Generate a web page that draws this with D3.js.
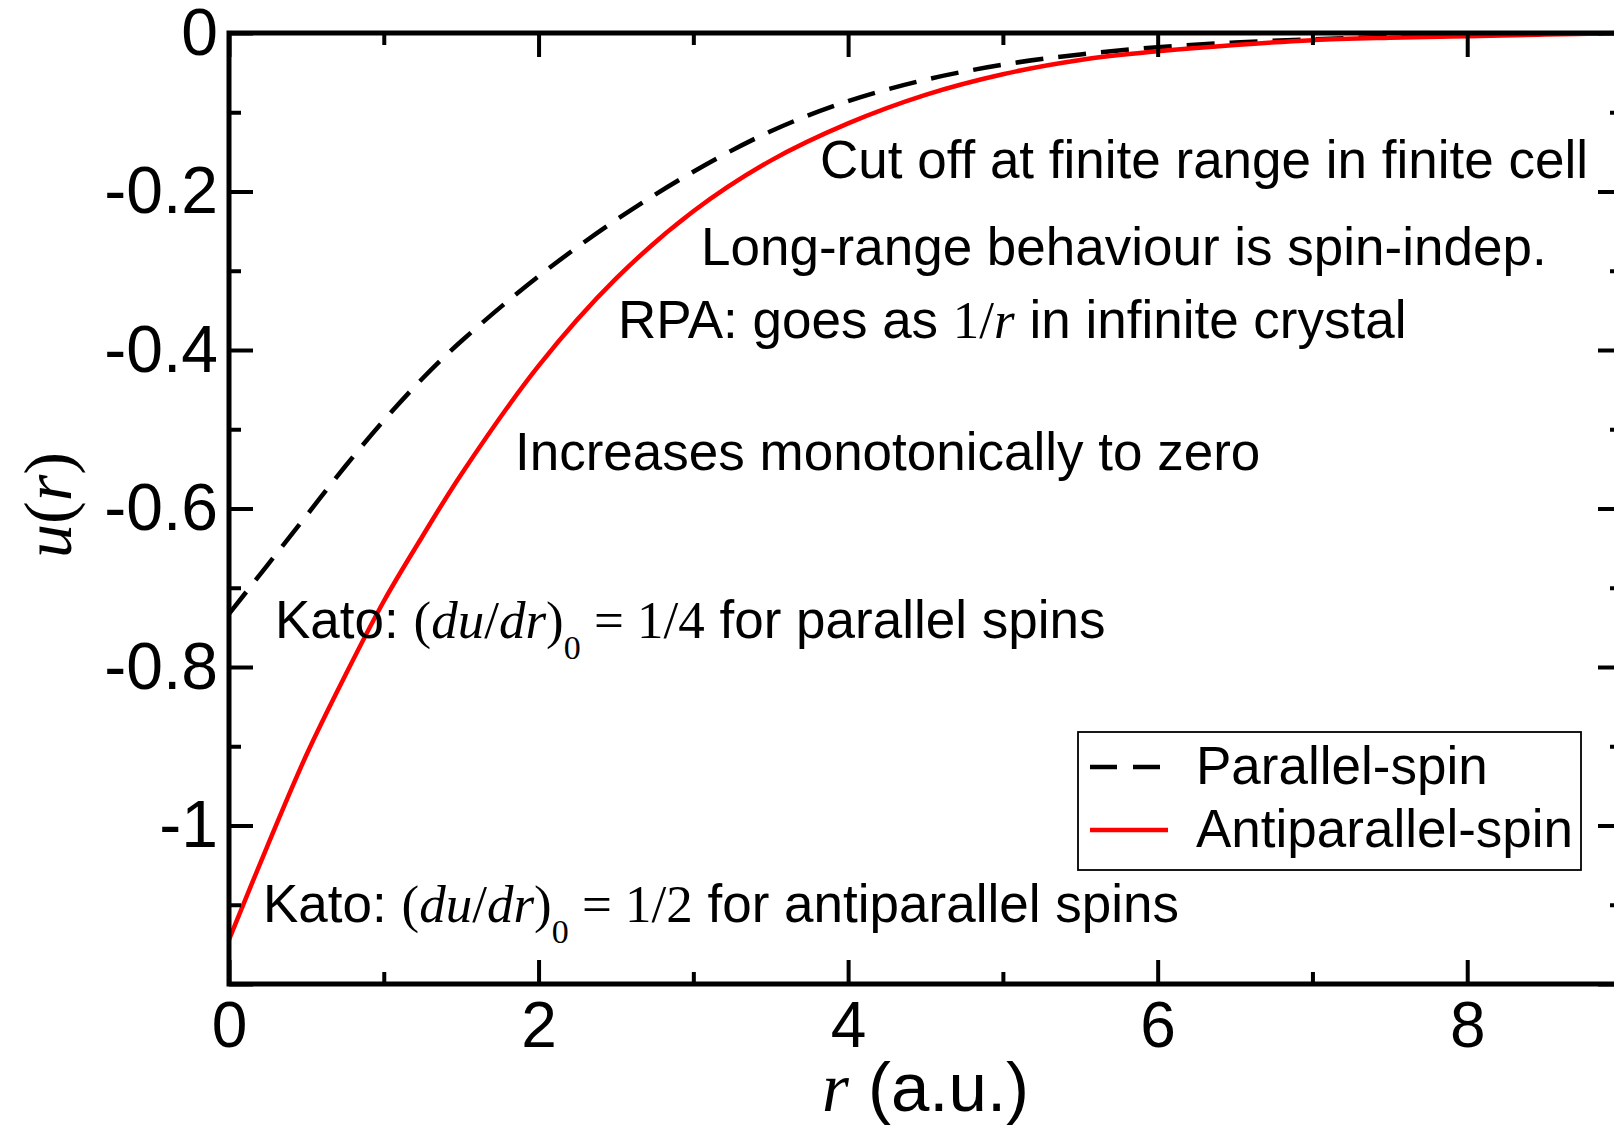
<!DOCTYPE html>
<html>
<head>
<meta charset="utf-8">
<script src="https://cdn.jsdelivr.net/npm/d3@7"></script>
<style>
  html, body { margin: 0; padding: 0; background: #fff; }
  svg { display: block; }
  .sans { font-family: "Liberation Sans", Arial, Helvetica, sans-serif; }
  .serif { font-family: "Liberation Serif", "Times New Roman", serif; }
</style>
</head>
<body>
<svg id="chart" width="1614" height="1127"></svg>
<script>
// ---- data ----
const rValues = [0, 0.25, 0.5, 0.75, 1, 1.25, 1.5, 2, 2.5, 3, 3.5, 4, 4.5, 5, 5.5, 6, 6.5, 7, 7.5, 8, 8.5, 9];
const parallelU = [-0.733, -0.671, -0.609, -0.547, -0.489, -0.436, -0.389, -0.307, -0.236, -0.175, -0.124, -0.086, -0.059, -0.040, -0.027, -0.018, -0.012, -0.008, -0.005, -0.003, -0.001, 0];
const antiparallelU = [-1.144, -1.025, -0.911, -0.811, -0.717, -0.635, -0.557, -0.420, -0.310, -0.225, -0.161, -0.114, -0.078, -0.052, -0.034, -0.023, -0.015, -0.009, -0.006, -0.004, -0.002, 0];
const seriesNames = ["Parallel-spin", "Antiparallel-spin"];
const xMajorTicks = [0, 2, 4, 6, 8];
const xMinorTicks = [1, 3, 5, 7];
const yMajorTicks = [0, -0.2, -0.4, -0.6, -0.8, -1, -1.2];
const yMinorTicks = [-0.1, -0.3, -0.5, -0.7, -0.9, -1.1];
const yTickLabels = ["0", "-0.2", "-0.4", "-0.6", "-0.8", "-1"];
const yLabelValues = [0, -0.2, -0.4, -0.6, -0.8, -1];

const svg = d3.select("#chart");
const L = 229, R = 1622, T = 33, B = 984;
const x = d3.scaleLinear().domain([0, 9]).range([L, R]);
const y = d3.scaleLinear().domain([-1.2, 0]).range([B, T]);

svg.append("defs").append("clipPath").attr("id", "clip")
  .append("rect").attr("x", L).attr("y", T).attr("width", R - L).attr("height", B - T);

// curves
const line = d3.line().x(d => x(d[0])).y(d => y(d[1])).curve(d3.curveCatmullRom.alpha(0.5));
const g = svg.append("g").attr("clip-path", "url(#clip)");
g.append("path").datum(rValues.map((r, i) => [r, parallelU[i]]))
  .attr("d", line).attr("fill", "none").attr("stroke", "#000")
  .attr("stroke-width", 4.5).attr("stroke-dasharray", "28,15");
g.append("path").datum(rValues.map((r, i) => [r, antiparallelU[i]]))
  .attr("d", line).attr("fill", "none").attr("stroke", "#ff0000")
  .attr("stroke-width", 4.5);

// ticks
function tickAxis(axis, tx, ty) {
  const a = svg.append("g").attr("transform", `translate(${tx},${ty})`).call(axis);
  a.select(".domain").remove();
  a.selectAll("text").remove();
  a.selectAll("line").attr("stroke", "#000").attr("stroke-width", 4);
  return a;
}
tickAxis(d3.axisBottom(x).tickValues(xMajorTicks).tickSize(-24), 0, B);
tickAxis(d3.axisBottom(x).tickValues(xMinorTicks).tickSize(-12), 0, B);
tickAxis(d3.axisTop(x).tickValues(xMajorTicks).tickSize(-24), 0, T);
tickAxis(d3.axisTop(x).tickValues(xMinorTicks).tickSize(-12), 0, T);
tickAxis(d3.axisLeft(y).tickValues(yMajorTicks).tickSize(-24), L, 0);
tickAxis(d3.axisLeft(y).tickValues(yMinorTicks).tickSize(-12), L, 0);
tickAxis(d3.axisRight(y).tickValues(yMajorTicks).tickSize(-24), R, 0);
tickAxis(d3.axisRight(y).tickValues(yMinorTicks).tickSize(-12), R, 0);

// frame
svg.append("rect").attr("x", L).attr("y", T).attr("width", R - L).attr("height", B - T)
  .attr("fill", "none").attr("stroke", "#000").attr("stroke-width", 5);

// tick labels
const xl = svg.append("g").attr("transform", `translate(0,${B})`)
  .call(d3.axisBottom(x).tickValues(xMajorTicks).tickSize(0).tickPadding(18).tickFormat(d3.format("d")));
xl.select(".domain").remove();
xl.selectAll("text").attr("class", "sans").style("font-size", "64px").attr("fill", "#000");

const yl = svg.append("g").attr("transform", `translate(${L},0)`)
  .call(d3.axisLeft(y).tickValues(yLabelValues).tickSize(0).tickPadding(11)
    .tickFormat((d, i) => yTickLabels[i]));
yl.select(".domain").remove();
yl.selectAll("text").attr("class", "sans").style("font-size", "66px").attr("fill", "#000");

// axis labels
const xt = svg.append("text").attr("x", x(4.5)).attr("y", 1111).attr("text-anchor", "middle")
  .style("font-size", "69px");
xt.append("tspan").attr("class", "serif").style("font-style", "italic").text("r");
xt.append("tspan").attr("class", "sans").text(" (a.u.)");

const yt = svg.append("text").attr("transform", `translate(71,505) rotate(-90)`)
  .attr("text-anchor", "middle").attr("class", "serif").style("font-size", "68px");
yt.append("tspan").style("font-style", "italic").text("u");
yt.append("tspan").text("(");
yt.append("tspan").style("font-style", "italic").text("r");
yt.append("tspan").text(")");

// annotations
const fs = 53;
function sansNote(tx, ty, s) {
  svg.append("text").attr("x", tx).attr("y", ty).attr("class", "sans")
    .style("font-size", fs + "px").text(s);
}
sansNote(820, 178, "Cut off at finite range in finite cell");
sansNote(701, 265, "Long-range behaviour is spin-indep.");
sansNote(515, 470, "Increases monotonically to zero");

const rpa = svg.append("text").attr("x", 618).attr("y", 338).style("font-size", fs + "px");
rpa.append("tspan").attr("class", "sans").text("RPA: goes as ");
rpa.append("tspan").attr("class", "serif").text("1/");
rpa.append("tspan").attr("class", "serif").style("font-style", "italic").text("r");
rpa.append("tspan").attr("class", "sans").text(" in infinite crystal");

function kato(tx, ty, frac, rest) {
  const t = svg.append("text").attr("x", tx).attr("y", ty).style("font-size", fs + "px");
  t.append("tspan").attr("class", "sans").text("Kato: ");
  t.append("tspan").attr("class", "serif").text("(");
  t.append("tspan").attr("class", "serif").style("font-style", "italic").text("du");
  t.append("tspan").attr("class", "serif").text("/");
  t.append("tspan").attr("class", "serif").style("font-style", "italic").text("dr");
  t.append("tspan").attr("class", "serif").text(")");
  t.append("tspan").attr("class", "serif").attr("dy", 21).style("font-size", "34px").text("0");
  t.append("tspan").attr("class", "serif").attr("dy", -21).text(" = " + frac);
  t.append("tspan").attr("class", "sans").text(rest);
}
kato(275, 638, "1/4", " for parallel spins");
kato(263, 922, "1/2", " for antiparallel spins");

// legend
const lg = svg.append("g");
lg.append("rect").attr("x", 1078).attr("y", 732).attr("width", 503).attr("height", 138)
  .attr("fill", "#fff").attr("stroke", "#000").attr("stroke-width", 1.8);
const legendItems = [
  { name: seriesNames[0], color: "#000", dash: "27,16", yy: 767 },
  { name: seriesNames[1], color: "#ff0000", dash: null, yy: 830 }
];
legendItems.forEach(it => {
  lg.append("line").attr("x1", 1090).attr("x2", 1168).attr("y1", it.yy).attr("y2", it.yy)
    .attr("stroke", it.color).attr("stroke-width", 4.5)
    .attr("stroke-dasharray", it.dash);
  lg.append("text").attr("x", 1196).attr("y", it.yy + 17).attr("class", "sans")
    .style("font-size", fs + "px").text(it.name);
});
</script>
</body>
</html>
